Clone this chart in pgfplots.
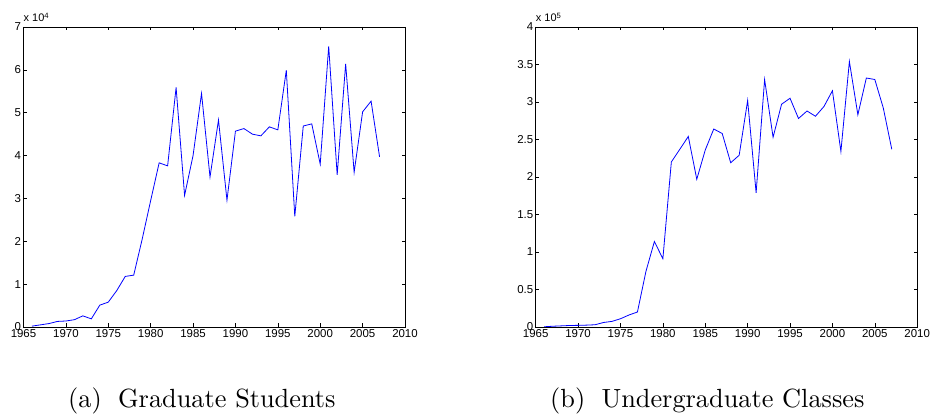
\documentclass[border=0pt]{standalone}
\usepackage{fontspec}
\newfontfamily\arial{Liberation Sans}
\newfontfamily\capfont{lmroman10-regular}[Extension=.otf]
\usepackage{pgfplots}
\pgfplotsset{compat=1.18}
\begin{document}
\begin{tikzpicture}
\useasboundingbox (0bp,0bp) rectangle (932bp,414bp);
\pgfplotsset{
  mstyle/.style={
    scale only axis, width=381.5bp, height=300bp,
    anchor=south west,
    axis line style={black, line width=0.8bp},
    every tick/.style={black, line width=0.6bp},
    tick align=inside, major tick length=3.5bp,
    xtick pos=both, ytick pos=both,
    xmin=1965, xmax=2010, ymin=0,
    xtick={1965,1970,...,2010},
    /pgf/number format/1000 sep={},
    /pgf/number format/assume math mode=true,
    tick label style={font=\arial\fontsize{11.5}{13}\selectfont},
    xticklabel style={yshift=1bp},
    yticklabel style={xshift=1bp},
    scaled ticks=false,
  }
}
\begin{axis}[mstyle, name=ga, at={(23.5bp,87bp)}, ymax=7, ytick={0,1,...,7}]
\addplot[blue, line width=0.8bp] coordinates {
(1966,0.02) (1967,0.05) (1968,0.08) (1969,0.13) (1970,0.14) (1971,0.17)
(1972,0.26) (1973,0.19) (1974,0.51) (1975,0.58) (1976,0.85) (1977,1.18)
(1978,1.21) (1979,2.05) (1980,2.95) (1981,3.83) (1982,3.76) (1983,5.59)
(1984,3.07) (1985,4.00) (1986,5.45) (1987,3.50) (1988,4.83) (1989,2.96)
(1990,4.57) (1991,4.63) (1992,4.50) (1993,4.46) (1994,4.67) (1995,4.60)
(1996,5.99) (1997,2.58) (1998,4.69) (1999,4.74) (2000,3.80) (2001,6.55)
(2002,3.55) (2003,6.14) (2004,3.61) (2005,5.02) (2006,5.27) (2007,3.97)
};
\end{axis}
\begin{axis}[mstyle, name=gb, at={(535.7bp,87bp)}, ymax=4, ytick={0,0.5,...,4}]
\addplot[blue, line width=0.8bp] coordinates {
(1966,0.003) (1967,0.01) (1968,0.015) (1969,0.02) (1970,0.022) (1971,0.025)
(1972,0.03) (1973,0.06) (1974,0.075) (1975,0.11) (1976,0.16) (1977,0.20)
(1978,0.74) (1979,1.14) (1980,0.91) (1981,2.20) (1982,2.37) (1983,2.54)
(1984,1.97) (1985,2.36) (1986,2.64) (1987,2.58) (1988,2.19) (1989,2.29)
(1990,3.02) (1991,1.79) (1992,3.30) (1993,2.53) (1994,2.97) (1995,3.05)
(1996,2.78) (1997,2.88) (1998,2.81) (1999,2.94) (2000,3.15) (2001,2.34)
(2002,3.54) (2003,2.83) (2004,3.32) (2005,3.30) (2006,2.92) (2007,2.37)
};
\end{axis}
\node[anchor=base west, inner sep=0pt, font=\arial\fontsize{11}{13}\selectfont] at ([yshift=5bp]ga.north west) {x 10\textsuperscript{4}};
\node[anchor=base west, inner sep=0pt, font=\arial\fontsize{11}{13}\selectfont] at ([yshift=5bp]gb.north west) {x 10\textsuperscript{5}};
\node[anchor=base west, inner sep=0pt, font=\capfont\fontsize{26.4}{30}\selectfont] at (68bp,7bp) {(a)\hspace{0.62em}Graduate Students};
\node[anchor=base west, inner sep=0pt, font=\capfont\fontsize{26.4}{30}\selectfont] at (550bp,7bp) {(b)\hspace{0.62em}Undergraduate Classes};
\end{tikzpicture}
\end{document}
